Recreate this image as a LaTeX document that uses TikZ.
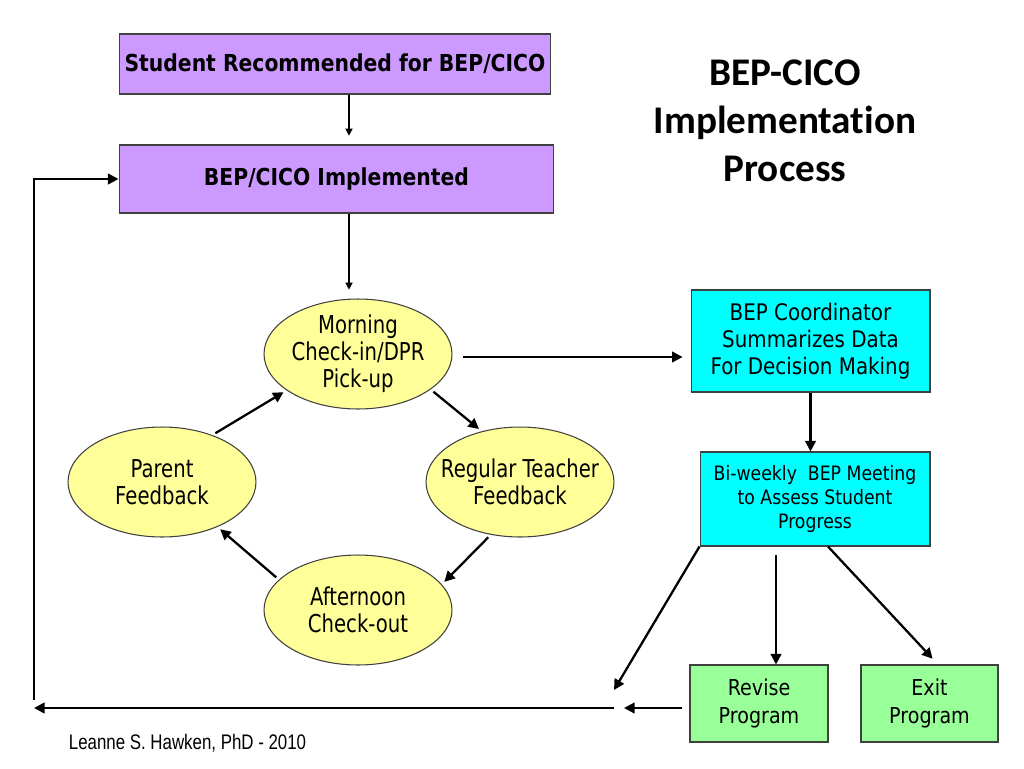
\documentclass[tikz,border=0pt]{standalone}
\usepackage{fontspec}
\setmainfont{DejaVu Sans}
\newfontfamily\boxfont[FakeStretch=0.87]{DejaVu Sans}
\newfontfamily\ringfont[FakeStretch=0.8]{DejaVu Sans}
\newfontfamily\titlefont[Ligatures=NoCommon]{Carlito}
\newfontfamily\notefont[FakeStretch=0.8]{Liberation Sans}
\usetikzlibrary{arrows.meta,shapes.geometric,positioning}
\definecolor{lilac}{HTML}{CC99FF}
\definecolor{paleyellow}{HTML}{FFFF99}
\definecolor{aqua}{HTML}{00FFFF}
\definecolor{mint}{HTML}{99FF99}
\tikzstyle{purplebox}=[rectangle,draw=black!75,line width=0.6pt,fill=lilac,inner xsep=0pt,font=\boxfont\bfseries\fontsize{13.3}{16}\selectfont]
\tikzstyle{cyanbox}=[rectangle,draw=black!75,line width=0.6pt,fill=aqua,align=center]
\tikzstyle{greenbox}=[rectangle,draw=black!75,line width=0.6pt,fill=mint,align=center,minimum height=1.54cm,font=\boxfont\fontsize{12.5}{15.9}\selectfont]
\tikzstyle{stage}=[ellipse,draw=black!75,line width=0.6pt,fill=paleyellow,minimum width=3.76cm,minimum height=2.2cm,inner ysep=0pt,inner xsep=-0.4cm,align=center,font=\ringfont\fontsize{14}{15.3}\selectfont]
\tikzstyle{arr}=[draw,line width=1.3pt,-{Triangle[length=6pt,width=6pt]}]
\tikzstyle{thinarr}=[draw,line width=0.7pt,-{Triangle[length=4pt,width=4pt]}]

\begin{document}
\begin{tikzpicture}[x=0.02cm,y=-0.02cm]
\useasboundingbox (0,0) rectangle (1024,768);

% Boxes at the top and the title
\node[purplebox,minimum width=8.64cm,minimum height=1.2cm] (recommended) at (335,64) {Student Recommended for BEP/CICO};
\node[purplebox,minimum width=8.7cm,minimum height=1.36cm] (implemented) at (336.5,179) {BEP/CICO Implemented};
\node[font=\titlefont\bfseries\fontsize{22.3}{27.2}\selectfont,align=center] (title) at (785,121) {BEP-CICO\\Implementation\\Process};

% The daily cycle
\node[stage] (morning) at (358,354) {Morning\\Check-in/DPR\\Pick-up};
\node[stage] (parent) at (162,482) {Parent\\Feedback};
\node[stage] (regular) at (520,482) {Regular Teacher\\Feedback};
\node[stage] (afternoon) at (358,610) {Afternoon\\Check-out};

% Data and decisions
\node[cyanbox,minimum width=4.78cm,minimum height=2.04cm,font=\boxfont\fontsize{13}{15.3}\selectfont] (coordinator) at (810.5,341) {BEP Coordinator\\Summarizes Data\\For Decision Making};
\node[cyanbox,minimum width=4.6cm,minimum height=1.88cm,font=\boxfont\fontsize{11.3}{13.6}\selectfont] (meeting) at (815,499) {Bi-weekly~~BEP Meeting\\to Assess Student\\Progress};
\node[greenbox,minimum width=2.76cm] (revise) at (759,703.5) {Revise\\Program};
\node[greenbox,minimum width=2.74cm] (exit) at (929.5,703.5) {Exit\\Program};

\node[font=\notefont\fontsize{12}{14}\selectfont] (credit) at (187.5,743) {Leanne S. Hawken, PhD - 2010};

% Connect the steps
\draw[thinarr,shorten >=5pt] ([xshift=0.28cm]recommended.south) -- ([xshift=0.28cm]recommended.south |- implemented.north);
\draw[thinarr,shorten >=5pt] ([xshift=0.25cm]implemented.south) -- ([xshift=0.25cm]implemented.south |- morning.north);

\foreach \source/\sa/\dest/\da in {parent/43/morning/207,morning/334/regular/127,regular/241/afternoon/17,afternoon/159/parent/321}
\path[arr,shorten <=2pt,shorten >=2pt] (\source.\sa) -- (\dest.\da);

\draw[arr,shorten <=5.7pt,shorten >=4.5pt] ([yshift=-0.06cm]morning.east) -- ([yshift=-0.06cm]morning.east -| coordinator.west);
\draw[arr] (coordinator.south) -- (coordinator.south |- meeting.north);

\coordinate (drop) at (614,690);
\draw[arr] (meeting.south west) -- (drop);
\draw[arr,shorten <=5pt] ([xshift=-0.78cm]meeting.south) -- ([xshift=-0.78cm]meeting.south |- revise.north);
\draw[arr,shorten >=4.5pt] ([xshift=0.26cm]meeting.south) -- ([xshift=0.17cm]exit.north);

% Back to the start
\coordinate (gapright) at (624,708);
\coordinate (gapleft) at (614,708);
\coordinate (farleft) at (34,708);
\coordinate (upright) at (34,700);
\draw[arr,shorten <=4pt] (revise.west |- gapright) -- (gapright);
\draw[arr] (gapleft) -- (farleft);
\draw[arr] (upright) -- (upright |- implemented.west) -- (implemented.west);

\end{tikzpicture}
\end{document}
